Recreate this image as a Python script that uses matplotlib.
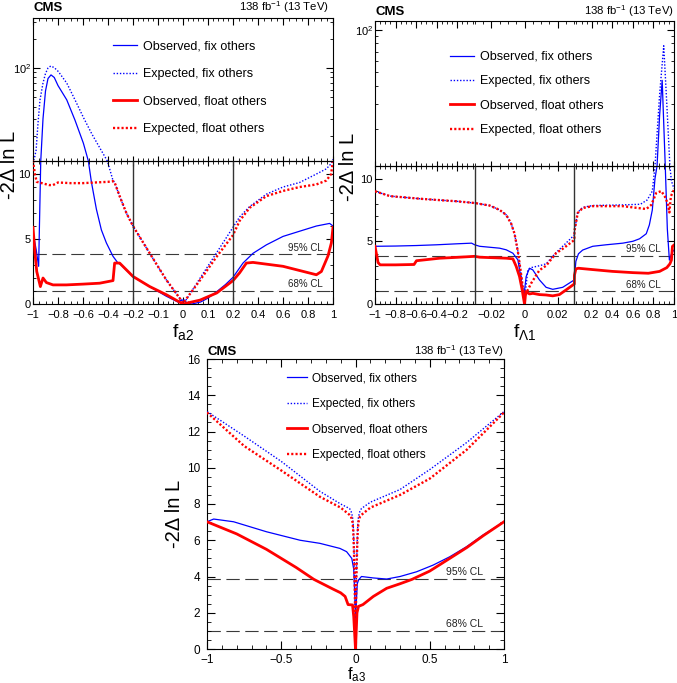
import numpy as np
import matplotlib
matplotlib.use("Agg")
import matplotlib.pyplot as plt
from matplotlib.ticker import FixedLocator, FixedFormatter, NullFormatter, NullLocator

plt.rcParams['font.family'] = ['Liberation Sans', 'DejaVu Sans']
plt.rcParams['mathtext.fontset'] = 'custom'
plt.rcParams['mathtext.rm'] = 'Liberation Sans'
plt.rcParams['mathtext.it'] = 'Liberation Sans:italic'
plt.rcParams['mathtext.bf'] = 'Liberation Sans:bold'
plt.rcParams['axes.linewidth'] = 0.8

LABELS = ['Observed, fix others', 'Expected, fix others',
          'Observed, float others', 'Expected, float others']

# ---------------- f_a2 (top left) ----------------
a2_breaks = [-1.0, -0.2, 0.2, 1.0]
a2_obs_fix_x = [-1, -0.975, -0.955, -0.938, -0.92, -0.9, -0.88, -0.856, -0.83, -0.8, -0.73,
                -0.664, -0.597, -0.557, -0.533, -0.493, -0.453, -0.413, -0.36, -0.32, -0.3,
                -0.2, -0.133, -0.067, -0.02, -0.008, 0.005, 0.015, 0.035, 0.07, 0.1, 0.135,
                0.17, 0.2, 0.28, 0.36, 0.467, 0.6, 0.733, 0.867, 0.973, 1.0]
a2_obs_fix_y = [5.5, 4.2, 2.9, 11, 30, 58, 78, 85, 80, 66, 47,
                29, 16.8, 11, 9.4, 7.3, 5.7, 4.7, 3.67, 3.15, 3.05,
                2.1, 1.34, 0.6, 0.15, 0.3, 0.3, 0.1, 0.0, 0.15, 0.45, 0.95,
                1.5, 2.05, 3.15, 3.9, 4.55, 5.2, 5.6, 6.0, 6.2, 6.0]
a2_exp_fix_x = [-1, -0.99, -0.975, -0.96, -0.944, -0.92, -0.9, -0.88, -0.858, -0.83, -0.797,
                -0.73, -0.664, -0.597, -0.53, -0.464, -0.405, -0.36, -0.347, -0.307, -0.253,
                -0.2, -0.133, -0.067, -0.013, 0.0, 0.01, 0.067, 0.133, 0.2, 0.253, 0.333,
                0.467, 0.6, 0.733, 0.867, 0.947, 0.985, 1.0]
a2_exp_fix_y = [11.5, 11.5, 14.3, 27, 47, 70, 88, 100, 105, 101, 92,
                70, 47, 31, 21, 14.9, 11, 9.5, 9.35, 8.3, 7.0,
                6.0, 3.9, 1.86, 0.44, 0.15, 0.25, 1.95, 3.9, 5.9, 6.7, 7.5,
                8.45, 9.0, 9.35, 10.0, 10.4, 10.8, 11.5]
a2_obs_flt_x = [-1, -0.985, -0.97, -0.941, -0.92, -0.893, -0.84, -0.733, -0.6, -0.467, -0.36,
                -0.347, -0.307, -0.2, -0.133, -0.065, 0.0, 0.068, 0.135, 0.2, 0.253, 0.307,
                0.36, 0.6, 0.867, 0.907, 0.96, 0.987, 1.0]
a2_obs_flt_y = [5.9, 4.0, 2.5, 1.34, 2.0, 1.65, 1.47, 1.47, 1.53, 1.6, 1.8,
                3.15, 3.15, 2.12, 1.34, 0.7, 0.0, 0.3, 0.85, 1.8, 2.4, 3.15,
                3.2, 2.9, 2.25, 2.5, 3.7, 4.7, 5.9]
a2_exp_flt_x = [-1, -0.985, -0.97, -0.93, -0.87, -0.84, -0.8, -0.7, -0.6, -0.5, -0.4,
                -0.36, -0.347, -0.307, -0.253, -0.2, -0.133, -0.067, -0.013, 0.0, 0.067,
                0.133, 0.2, 0.253, 0.333, 0.467, 0.6, 0.733, 0.867, 0.947, 0.985, 1.0]
a2_exp_flt_y = [11.1, 10.0, 9.4, 9.3, 9.15, 9.15, 9.35, 9.3, 9.3, 9.35, 9.4,
                9.45, 9.35, 8.3, 7.0, 6.0, 3.9, 1.86, 0.44, 0.05, 1.8,
                3.6, 5.3, 6.4, 7.4, 8.3, 8.7, 9.0, 9.2, 9.5, 10.0, 11.2]
a2_xticks = [-1, -0.8, -0.6, -0.4, -0.2, -0.1, 0, 0.1, 0.2, 0.4, 0.6, 0.8, 1]

# ---------------- f_Lambda1 (top right) ----------------
l1_breaks = [-1.0, -0.03, 0.03, 1.0]
l1_obs_fix_x = [-1, -0.8, -0.6, -0.4, -0.2, -0.06, -0.03, -0.027, -0.015, -0.011, -0.007,
                -0.004, -0.0023, -0.0004, 0.001, 0.003, 0.005, 0.009, 0.013, 0.017, 0.023,
                0.03, 0.032, 0.045, 0.07, 0.111, 0.209, 0.339, 0.502, 0.6, 0.665, 0.73,
                0.76, 0.789, 0.815, 0.835, 0.86, 0.885, 0.915, 0.935, 0.955, 0.98, 1.0]
l1_obs_fix_y = [4.6, 4.62, 4.66, 4.72, 4.8, 4.85, 4.72, 4.6, 4.45, 4.32, 4.05,
                3.52, 2.19, 0.6, 2.19, 2.85, 2.72, 1.92, 1.33, 1.17, 1.33,
                1.92, 2.2, 3.4, 4.0, 4.3, 4.6, 4.72, 4.85, 5.0, 5.2, 5.6,
                6.3, 7.5, 10, 11, 25, 44, 11, 6, 3.5, 4.1, 4.3]
l1_exp_fix_x = [-1, -0.855, -0.53, -0.208, -0.03, -0.021, -0.015, -0.011, -0.008, -0.006,
                -0.004, -0.0025, -0.001, 0.0, 0.001, 0.002, 0.004, 0.009, 0.013, 0.019,
                0.023, 0.03, 0.031, 0.063, 0.111, 0.209, 0.502, 0.673, 0.74, 0.789, 0.815,
                0.86, 0.9, 0.93, 0.96, 0.975, 1.0]
l1_exp_fix_y = [8.99, 8.6, 8.37, 8.19, 8.05, 7.85, 7.5, 7.1, 6.4, 5.6,
                4.2, 2.8, 1.3, 0.4, 1.5, 2.72, 2.9, 3.05, 3.2, 4.1,
                4.6, 5.5, 5.8, 7.3, 7.7, 7.85, 7.9, 7.95, 8.3, 9.0, 11,
                35, 77, 30, 11, 9.8, 9.2]
l1_obs_flt_x = [-1, -0.97, -0.95, -0.8, -0.62, -0.596, -0.37, -0.2, -0.03, -0.027, -0.011,
                -0.007, -0.005, -0.003, -0.0015, 0.0, 0.0008, 0.003, 0.005, 0.009, 0.013,
                0.017, 0.021, 0.025, 0.03, 0.031, 0.045, 0.07, 0.2, 0.4, 0.6, 0.75, 0.86,
                0.93, 0.96, 0.975, 0.985, 1.0]
l1_obs_flt_y = [4.6, 3.3, 3.12, 3.12, 3.15, 3.45, 3.65, 3.72, 3.8, 3.73, 3.65,
                3.6, 3.0, 2.19, 1.2, 0.0, 0.99, 0.8, 0.85, 0.75, 0.72,
                0.65, 0.75, 1.12, 1.6, 2.3, 2.8, 2.85, 2.75, 2.6, 2.5, 2.45, 2.6,
                2.9, 3.2, 3.5, 4.6, 4.7]
l1_exp_flt_x = [-1, -0.855, -0.53, -0.208, -0.03, -0.021, -0.015, -0.011, -0.008, -0.006,
                -0.004, -0.0025, -0.001, 0.0, 0.001, 0.004, 0.009, 0.013, 0.019, 0.023,
                0.03, 0.031, 0.063, 0.111, 0.209, 0.502, 0.73, 0.779, 0.827, 0.876, 0.909,
                0.94, 0.955, 0.97, 1.0]
l1_exp_flt_y = [8.99, 8.6, 8.37, 8.19, 8.05, 7.85, 7.5, 7.1, 6.4, 5.6,
                4.2, 2.8, 1.3, 0.6, 0.85, 1.65, 2.7, 3.05, 4.05, 4.4,
                5.1, 5.8, 7.25, 7.65, 7.8, 7.8, 7.57, 7.9, 8.85, 9.0, 8.6,
                8.0, 7.3, 8.6, 9.1]
l1_xticks = [-1, -0.8, -0.6, -0.4, -0.2, -0.02, 0, 0.02, 0.2, 0.4, 0.6, 0.8, 1]

# ---------------- f_a3 (bottom) ----------------
a3_obs_fix_x = [-1, -0.955, -0.821, -0.6, -0.373, -0.24, -0.105, -0.06, -0.025, -0.012,
                -0.005, 0.0, 0.005, 0.012, 0.02, 0.04, 0.12, 0.21, 0.3, 0.411, 0.523,
                0.635, 0.747, 0.859, 1.0]
a3_obs_fix_y = [7.02, 7.17, 7.02, 6.47, 6.0, 5.83, 5.55, 5.37, 5.0, 4.4,
                3.0, 1.8, 2.5, 3.6, 3.8, 4.0, 3.92, 3.86, 4.0, 4.26, 4.63,
                5.09, 5.64, 6.29, 7.02]
a3_exp_fix_x = [-1, -0.75, -0.5, -0.24, -0.1, -0.04, -0.03, -0.02, -0.015, -0.01, -0.006,
                -0.003, 0.0, 0.003, 0.006, 0.01, 0.015, 0.02, 0.03, 0.04, 0.1, 0.3, 0.5,
                0.75, 1.0]
a3_exp_fix_y = [13.1, 11.75, 10.35, 8.7, 8.0, 7.75, 7.6, 7.3, 6.8, 5.5, 4.0,
                2.3, 0.0, 2.3, 4.0, 5.5, 6.8, 7.3, 7.6, 7.75, 8.1, 8.8, 9.9,
                11.4, 13.1]
a3_obs_flt_x = [-1, -0.8, -0.6, -0.4, -0.28, -0.15, -0.1, -0.07, -0.05, -0.02, -0.012,
                -0.004, 0.0, 0.004, 0.01, 0.02, 0.05, 0.12, 0.21, 0.3, 0.38, 0.5, 0.635,
                0.75, 0.86, 1.0]
a3_obs_flt_y = [7.02, 6.35, 5.5, 4.5, 3.84, 3.3, 3.1, 2.9, 2.45, 2.43, 1.8,
                0.6, 0.0, 0.8, 2.0, 2.35, 2.45, 2.9, 3.35, 3.6, 3.84, 4.3, 5.0,
                5.6, 6.25, 7.02]
a3_exp_flt_x = [-1, -0.75, -0.5, -0.24, -0.1, -0.04, -0.03, -0.02, -0.015, -0.01, -0.006,
                -0.003, 0.0, 0.003, 0.006, 0.01, 0.015, 0.02, 0.03, 0.04, 0.1, 0.3, 0.5,
                0.75, 1.0]
a3_exp_flt_y = [13.05, 11.2, 9.85, 8.4, 7.8, 7.4, 7.3, 7.0, 6.5, 5.3, 3.9,
                2.2, 0.0, 2.2, 3.9, 5.3, 6.5, 7.0, 7.3, 7.4, 7.8, 8.5, 9.4,
                11.0, 13.05]
a3_xticks = [-1, -0.5, 0, 0.5, 1]

CL_LEVELS = [3.84, 1.0]
CL_NAMES = ['95% CL', '68% CL']

STY = [dict(color='#0000ff', lw=0.9, ls='-'),
       dict(color='#0000ff', lw=1.0, ls=(0, (1, 1.3))),
       dict(color='#ff0000', lw=2.0, ls='-'),
       dict(color='#ff0000', lw=1.7, ls=(0, (0.9, 0.9)))]

W, H = 677, 683
fig = plt.figure(figsize=(W / 100, H / 100), dpi=100)


def rect(l, t, r, b):
    return [l / W, 1 - b / H, (r - l) / W, (b - t) / H]


def fmt(v):
    return ('%g' % v).replace('-', '\u2212')


def piecewise(xp, fp):
    xp = np.asarray(xp, float)
    fp = np.asarray(fp, float)
    s0 = (fp[1] - fp[0]) / (xp[1] - xp[0])
    s1 = (fp[-1] - fp[-2]) / (xp[-1] - xp[-2])

    def f(v):
        v = np.asarray(v, float)
        out = np.interp(v, xp, fp)
        out = np.where(v < xp[0], fp[0] + (v - xp[0]) * s0, out)
        return np.where(v > xp[-1], fp[-1] + (v - xp[-1]) * s1, out)
    return f


def broken_y(top, frac, cut=11.0):
    span = np.log10(top) - np.log10(cut)

    def fwd(v):
        v = np.asarray(v, float)
        lg = np.log10(np.maximum(v, cut))
        return np.where(v <= cut, v / cut * frac,
                        frac + (lg - np.log10(cut)) / span * (1 - frac))

    def inv(u):
        u = np.asarray(u, float)
        e = np.clip((u - frac) / (1 - frac) * span, 0, 10)
        return np.where(u <= frac, u / frac * cut, cut * 10 ** e)
    return fwd, inv


def decorate(ax, cms_y, lumi_x=1.0, fs_cms=9.5, fs_lumi=8.2):
    ax.text(0.0, cms_y, 'CMS', transform=ax.transAxes, fontsize=fs_cms,
            fontweight='bold', ha='left', va='baseline')
    ax.text(lumi_x, cms_y, r'138 fb$^{-1}$ (13 TeV)', transform=ax.transAxes,
            fontsize=fs_lumi, ha='right', va='baseline')


def cl_lines(ax, xtext, fs=7):
    for lvl, name in zip(CL_LEVELS, CL_NAMES):
        ax.axhline(lvl, color='#3a3a3a', lw=0.8, dashes=(12, 5), zorder=1)
        ax.text(xtext, lvl + 0.12, name, transform=ax.get_yaxis_transform(),
                ha='right', va='bottom', fontsize=fs, color='#222222')


def draw_curves(ax, series):
    handles = []
    order = [1, 3, 0, 2]
    for i in order:
        x, y = series[i]
        h, = ax.plot(x, y, label=LABELS[i], zorder=3 + i, **STY[i])
        handles.append((i, h))
    handles.sort(key=lambda t: t[0])
    return [h for _, h in handles]


def top_panel(box, breaks, top, frac, series, xticks, minor_x, xname,
              leg_anchor, leg_space, ylab_x, cl_x, cms_y, lumi_x):
    ax = fig.add_axes(rect(*box))
    fx = piecewise(breaks, [0, 1, 2, 3])
    ix = piecewise([0, 1, 2, 3], breaks)
    ax.set_xscale('function', functions=(fx, ix))
    fy, iy = broken_y(top, frac)
    ax.set_yscale('function', functions=(fy, iy))
    ax.set_xlim(-1, 1)
    ax.set_ylim(0, top)

    hs = draw_curves(ax, series)
    cl_lines(ax, cl_x)
    ax.axhline(11, color='black', lw=0.8, zorder=6)
    ax.vlines(breaks[1:3], 0, 11, colors='#333333', lw=1.0, zorder=6)

    ax.xaxis.set_major_locator(FixedLocator(xticks))
    ax.xaxis.set_major_formatter(FixedFormatter([fmt(v) for v in xticks]))
    ax.xaxis.set_minor_locator(FixedLocator(minor_x))
    ymaj = [0, 5, 10, 100]
    ax.yaxis.set_major_locator(FixedLocator(ymaj))
    ax.yaxis.set_major_formatter(FixedFormatter(['0', '5', '10', r'$10^2$']))
    ymin = [1, 2, 3, 4, 6, 7, 8, 9, 11, 20, 30, 40, 50, 60, 70, 80, 90, 200, 300]
    ax.yaxis.set_minor_locator(FixedLocator([v for v in ymin if v < top]))
    ax.tick_params(which='both', direction='in', top=True, right=True, labelsize=8)
    ax.tick_params(axis='x', pad=4)
    ax.tick_params(axis='y', pad=1.5)
    ax.tick_params(which='major', length=5)
    ax.tick_params(which='minor', length=2.5)

    # tick marks along the break line
    brk = ax.inset_axes([0, frac, 1, 1e-4])
    brk.set_xscale('function', functions=(fx, ix))
    brk.set_xlim(-1, 1)
    brk.patch.set_alpha(0)
    for s in ['left', 'right', 'top']:
        brk.spines[s].set_visible(False)
    brk.spines['bottom'].set_linewidth(0.8)
    brk.yaxis.set_major_locator(NullLocator())
    brk.xaxis.set_major_locator(FixedLocator(xticks))
    brk.xaxis.set_minor_locator(FixedLocator(minor_x))
    brk.xaxis.set_major_formatter(NullFormatter())
    brk.tick_params(which='both', direction='inout', bottom=True, top=False)
    brk.tick_params(which='major', length=7)
    brk.tick_params(which='minor', length=4)

    ax.legend(hs, LABELS, loc='upper left', bbox_to_anchor=leg_anchor, frameon=False,
              fontsize=9, handlelength=1.9, handletextpad=0.5, labelspacing=leg_space,
              borderpad=0, borderaxespad=0)
    ax.text(ylab_x, 0.486, '-2\u0394 ln L', transform=ax.transAxes, rotation=90,
            ha='center', va='center', fontsize=14.5)
    ax.text(0.5, -0.062, xname, transform=ax.transAxes, ha='center', va='top', fontsize=14)
    decorate(ax, cms_y, lumi_x)
    return ax


a2_minor = list(np.arange(-1, -0.2, 0.05)) + list(np.arange(-0.2, 0.2, 0.02)) + \
    list(np.arange(0.2, 1.0001, 0.05))
top_panel((33, 17.5, 333, 304), a2_breaks, 332, 0.499,
          [(a2_obs_fix_x, a2_obs_fix_y), (a2_exp_fix_x, a2_exp_fix_y),
           (a2_obs_flt_x, a2_obs_flt_y), (a2_exp_flt_x, a2_exp_flt_y)],
          a2_xticks, a2_minor, r'f$_{\rm a2}$', (0.267, 0.92), 1.24, -0.077, 0.967, 1.021,
          0.985)

l1_minor = list(np.arange(-1, -0.03, 0.05)) + list(np.arange(-0.03, 0.03001, 0.005)) + \
    list(np.arange(0.05, 1.0001, 0.05))
top_panel((375, 21, 674, 304), l1_breaks, 115, 0.4876,
          [(l1_obs_fix_x, l1_obs_fix_y), (l1_exp_fix_x, l1_exp_fix_y),
           (l1_obs_flt_x, l1_obs_flt_y), (l1_exp_flt_x, l1_exp_flt_y)],
          l1_xticks, l1_minor, r'f$_{\Lambda1}$', (0.251, 0.894), 0.99, -0.09, 0.957, 1.021,
          1.0)

# ---------------- bottom panel ----------------
ax = fig.add_axes(rect(207, 359, 504, 649))
ax.set_xlim(-1, 1)
ax.set_ylim(0, 16)
hs = draw_curves(ax, [(a3_obs_fix_x, a3_obs_fix_y), (a3_exp_fix_x, a3_exp_fix_y),
                      (a3_obs_flt_x, a3_obs_flt_y), (a3_exp_flt_x, a3_exp_flt_y)])
cl_lines(ax, 0.929, fs=7.5)
ax.xaxis.set_major_locator(FixedLocator(a3_xticks))
ax.xaxis.set_major_formatter(FixedFormatter([fmt(v) for v in a3_xticks]))
ax.xaxis.set_minor_locator(FixedLocator(np.arange(-1, 1.0001, 0.1)))
ax.yaxis.set_major_locator(FixedLocator(np.arange(0, 17, 2)))
ax.yaxis.set_minor_locator(FixedLocator(np.arange(0, 16.01, 0.5)))
ax.tick_params(which='both', direction='in', top=True, right=True, labelsize=8.5)
ax.tick_params(axis='x', pad=3.5)
ax.tick_params(axis='y', pad=5)
ax.tick_params(which='major', length=6)
ax.tick_params(which='minor', length=3)
ax.legend(hs, LABELS, loc='upper left', bbox_to_anchor=(0.269, 0.955), frameon=False,
          fontsize=8.5, handlelength=1.7, handletextpad=0.45, labelspacing=1.16,
          borderpad=0, borderaxespad=0)
ax.text(-0.11, 0.466, '-2\u0394 ln L', transform=ax.transAxes, rotation=90,
        ha='center', va='center', fontsize=14.5)
ax.text(0.505, -0.056, r'f$_{\rm a3}$', transform=ax.transAxes, ha='center', va='top',
        fontsize=12)
decorate(ax, 1.014)

fig.savefig('out.png', dpi=100)
